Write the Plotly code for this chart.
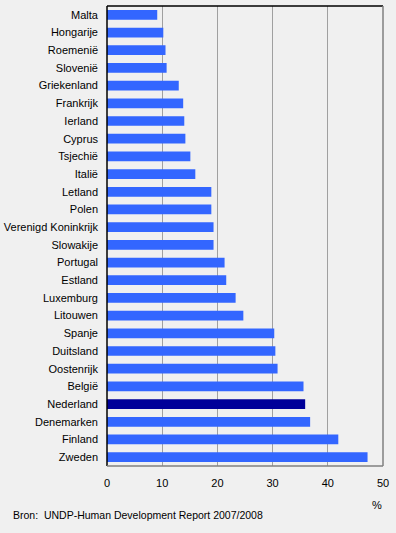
import plotly.graph_objects as go

countries = ["Malta", "Hongarije", "Roemenië", "Slovenië", "Griekenland", "Frankrijk",
             "Ierland", "Cyprus", "Tsjechië", "Italië", "Letland", "Polen",
             "Verenigd Koninkrijk", "Slowakije", "Portugal", "Estland", "Luxemburg",
             "Litouwen", "Spanje", "Duitsland", "Oostenrijk", "België", "Nederland",
             "Denemarken", "Finland", "Zweden"]
values = [9.1, 10.2, 10.6, 10.8, 13.0, 13.8, 14.0, 14.2, 15.1, 16.0, 18.9, 18.9,
          19.3, 19.3, 21.3, 21.6, 23.3, 24.7, 30.3, 30.5, 30.9, 35.6, 35.9,
          36.8, 41.9, 47.2]
highlight = "Nederland"
x_ticks = [0, 10, 20, 30, 40, 50]

colors = ["#000099" if c == highlight else "#3366FF" for c in countries]

FONT = "Liberation Sans, Arial, sans-serif"

fig = go.Figure(go.Bar(
    x=values, y=countries, orientation="h",
    marker=dict(color=colors, line=dict(width=0)),
    hoverinfo="x+y",
))

fig.update_layout(
    width=396, height=533,
    margin=dict(l=107, r=13, t=6, b=67, autoexpand=False),
    paper_bgcolor="#F0F0F0", plot_bgcolor="#F0F0F0",
    bargap=0.45,
    showlegend=False,
    font=dict(family=FONT, size=11, color="#000000"),
    xaxis=dict(range=[0, 50], tickvals=x_ticks, ticktext=[str(t) for t in x_ticks],
               showgrid=True, gridcolor="#A0A0A0", gridwidth=1, zeroline=False,
               showline=False, ticks="", ticklabelstandoff=9, fixedrange=True,
               automargin=False),
    yaxis=dict(categoryorder="array", categoryarray=countries, autorange="reversed",
               showgrid=False, zeroline=False, showline=False, ticks="",
               ticklabelstandoff=8, fixedrange=True, automargin=False),
    shapes=[
        dict(type="line", xref="paper", yref="paper", x0=0, x1=1, y0=1, y1=1,
             line=dict(color="#000000", width=1.5)),
        dict(type="line", xref="paper", yref="paper", x0=0, x1=0, y0=0, y1=1,
             line=dict(color="#000000", width=1.5)),
        dict(type="line", xref="paper", yref="paper", x0=0, x1=1, y0=0, y1=0,
             line=dict(color="#808080", width=1.5)),
        dict(type="line", xref="paper", yref="paper", x0=1, x1=1, y0=0, y1=1,
             line=dict(color="#808080", width=1.5)),
    ],
    annotations=[
        dict(text="%", xref="paper", yref="paper", x=(377 - 107) / 276, y=-(505 - 466) / 460,
             xanchor="center", yanchor="middle", showarrow=False,
             font=dict(family=FONT, size=11)),
        dict(text="Bron:\u00a0\u00a0UNDP-Human Development Report 2007/2008",
             xref="paper", yref="paper", x=-(107 - 11) / 276, y=-(515 - 466) / 460,
             xanchor="left", yanchor="middle", showarrow=False,
             font=dict(family=FONT, size=10.5)),
    ],
)

fig.write_html("out.html", config={"displayModeBar": False},
               post_script="document.body.style.margin='0';")
